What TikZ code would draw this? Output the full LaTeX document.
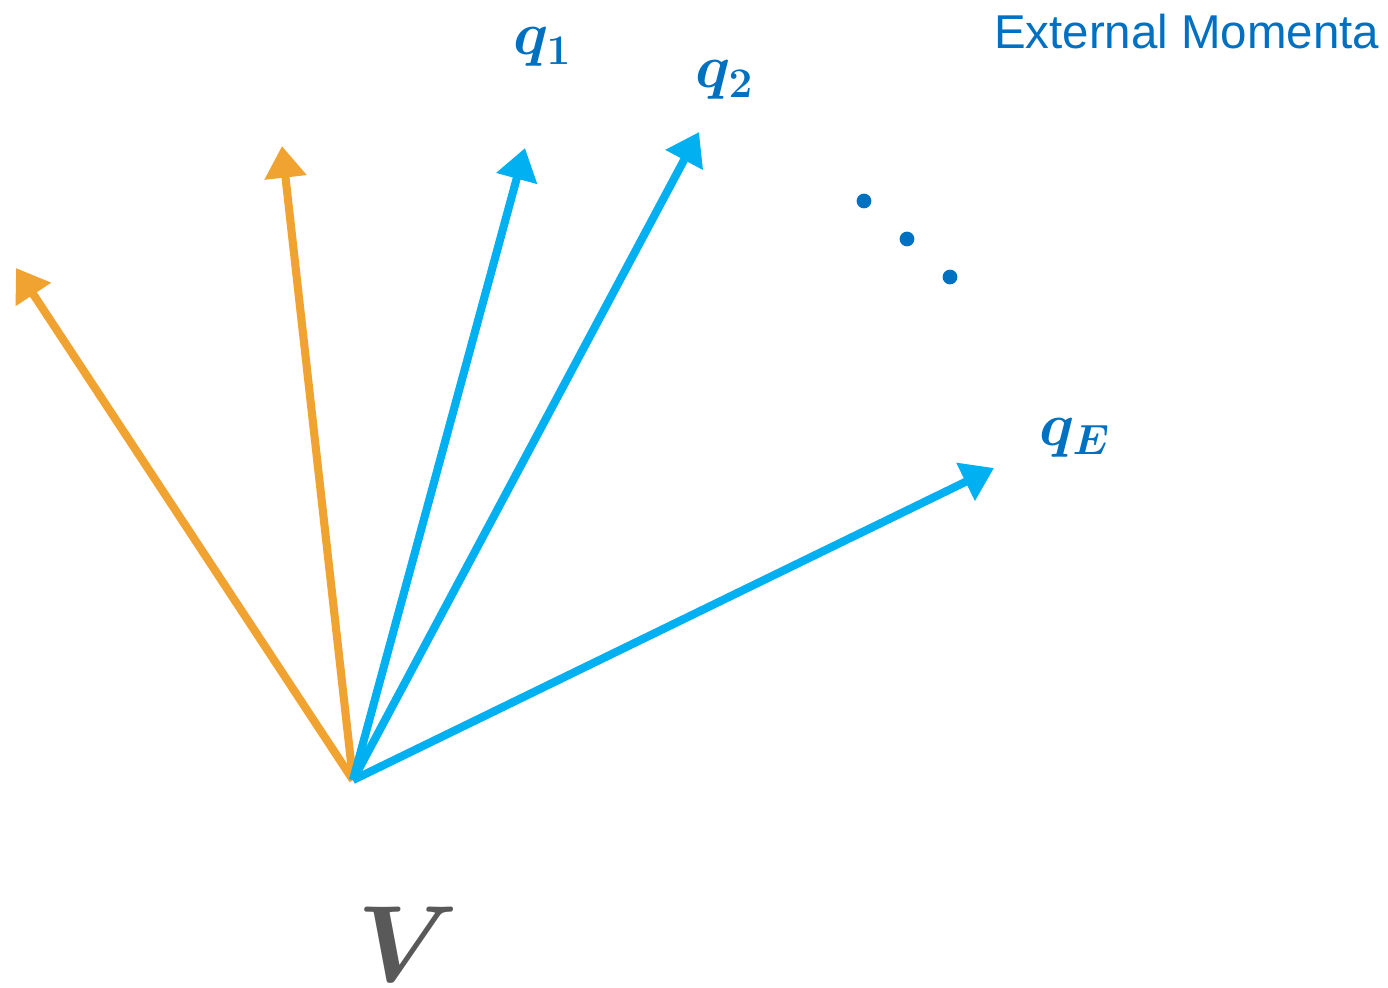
\documentclass[tikz,border=0pt]{standalone}
\usepackage{fontspec}
\usepackage{amsmath}
\usepackage{graphicx}
\newfontfamily\headfont{Liberation Sans}
\usetikzlibrary{arrows.meta}
\definecolor{intorange}{HTML}{F0A330}
\definecolor{extblue}{HTML}{00B0F0}
\definecolor{labblue}{HTML}{0070C0}
\definecolor{vgrey}{HTML}{595959}

\begin{document}
\begin{tikzpicture}[x=0.01cm, y=-0.01cm,
  mom/.style={line width=2.3pt, -{Triangle[length=9pt, width=11.5pt]}},
  qlab/.style={text=labblue, font=\fontsize{17.28}{19}\selectfont\boldmath, inner sep=0pt, anchor=base west}]
  \useasboundingbox (0,0) rectangle (1388,988);
  % vertex and line ends
  \coordinate (v) at (353,780);
  \coordinate (i1) at (16,268);
  \coordinate (i2) at (282,146);
  \coordinate (e1) at (525,148);
  \coordinate (e2) at (699,132);
  \coordinate (eE) at (994,468);
  % internal lines
  \foreach \t in {i1, i2} {
    \draw[mom, intorange] (v) -- (\t);
  }
  % external momenta
  \foreach \t in {e1, e2, eE} {
    \draw[mom, extblue] (v) -- (\t);
  }
  % dots
  \foreach \x/\y in {864/201, 907/239, 950/277} {
    \fill[labblue] (\x,\y) circle (2.1pt);
  }
  % labels
  \node[qlab] (q1) at (513,55) {$q_1$};
  \node[qlab] (q2) at (695,88) {$q_2$};
  \node[qlab] (qE) at (1039,445) {$q_E$};
  \node[inner sep=0pt, anchor=base west, text=vgrey, font=\fontsize{24.88}{28}\selectfont\boldmath] (vlab) at (357,981) {\scalebox{1.24}{$V$}};
  \node[inner sep=0pt, anchor=base east, text=labblue, font=\headfont\fontsize{13.5}{16}\selectfont] (title) at (1380,49) {External Momenta};
\end{tikzpicture}
\end{document}
